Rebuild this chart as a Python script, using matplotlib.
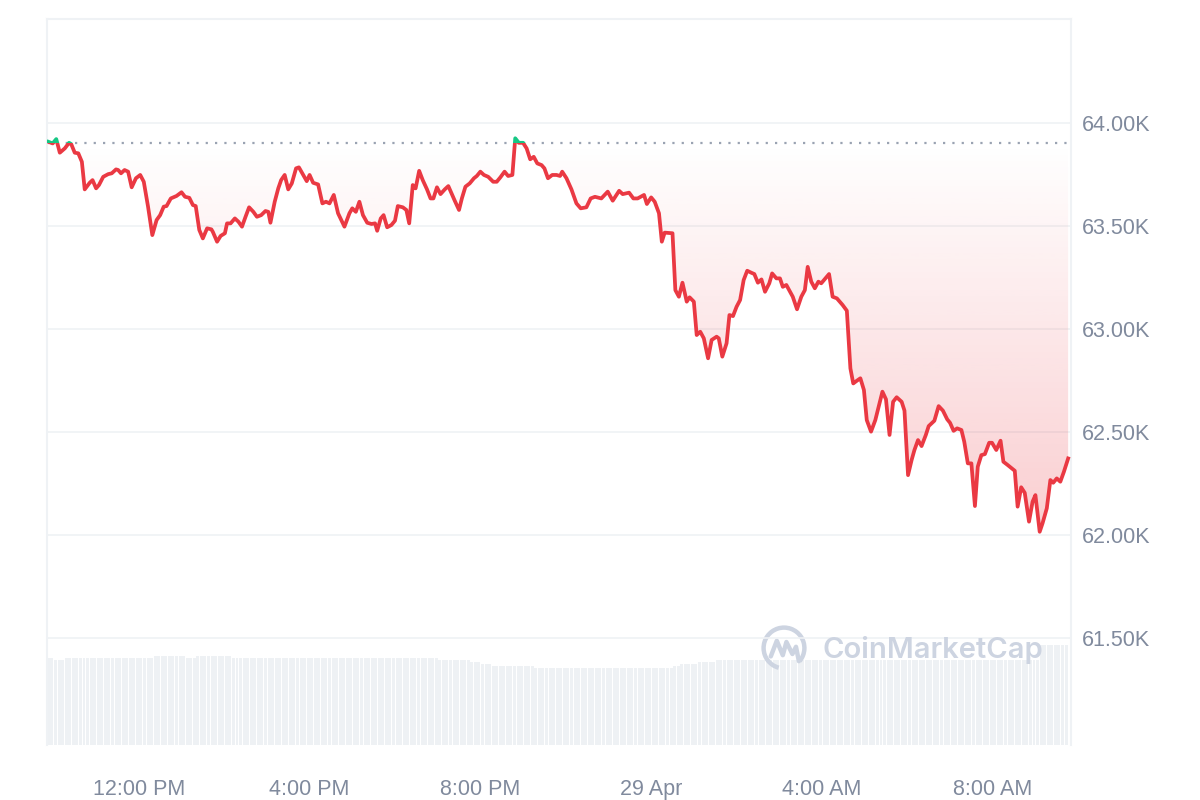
import numpy as np
import matplotlib
matplotlib.use("Agg")
import matplotlib.pyplot as plt
from matplotlib.patches import Rectangle, Arc
from matplotlib.ticker import FuncFormatter
from matplotlib.colors import to_rgb

# minutes after 12:00 PM, 28 Apr
minutes = [-127, -121, -116, -111, -104, -98, -95, -90, -85, -80, -76, -69, -65, -60, -56, -50, -43, -38, -32, -29,
           -25, -20, -15, -10, -4, 2, 7, 13, 19, 25, 30, 35, 39, 45, 53, 60, 65, 71, 76, 80,
           85, 90, 96, 102, 104, 110, 115, 121, 124, 129, 135, 140, 145, 150, 155, 161, 166, 172, 178, 182,
           185, 191, 196, 200, 205, 210, 215, 221, 225, 231, 236, 240, 245, 252, 258, 263, 268, 274,
           280, 289, 296, 300, 305, 310, 315, 321, 327, 332, 335, 340, 344, 349, 355, 360, 364, 371, 376, 380,
           385, 389, 394, 399, 405, 410, 414, 419, 424, 430, 435, 439, 444, 450, 454, 459, 465, 471, 475, 480,
           485, 491, 498, 503, 508, 514, 519, 525, 529, 534, 540, 545, 550, 555, 560, 566, 570, 575, 581, 587,
           592, 595, 601, 608, 615, 621, 629, 635, 641, 650, 659, 666, 675, 680, 689,
           695, 701, 710, 714, 720, 725, 731, 735, 739, 750, 754, 759, 764, 770, 774, 780, 784, 789, 794, 800,
           805, 812, 815, 820, 826, 830, 835, 840, 845, 850, 855, 861, 865, 870, 875, 880, 886, 890, 896, 901,
           905, 910, 919, 925, 931, 936, 940, 945, 950, 955, 959, 970, 975, 981, 989, 995,
           1000, 1004, 1009, 1014, 1019, 1023, 1029, 1035, 1045, 1050, 1055, 1060, 1065, 1072, 1076, 1081, 1086,
           1090, 1095, 1100, 1106, 1110, 1118, 1124, 1130, 1136, 1140, 1145, 1150, 1156, 1160, 1165, 1170, 1175,
           1179, 1184, 1189, 1195, 1199, 1205, 1211, 1215, 1221, 1231, 1235, 1240, 1245, 1251, 1256, 1260,
           1266, 1270, 1276, 1281, 1285, 1290, 1295, 1300, 1306]

price = [63909, 63901, 63922, 63856, 63877, 63904, 63898, 63856, 63853, 63812, 63678, 63710, 63723, 63683, 63699,
         63739, 63752, 63756, 63775, 63772, 63756, 63772, 63764, 63688, 63732, 63748, 63715, 63594, 63456, 63529,
         63553, 63594, 63597, 63634, 63646, 63664, 63642, 63637, 63602, 63597, 63481, 63440, 63489, 63484, 63472,
         63424, 63452, 63465, 63513, 63513, 63537, 63521, 63497, 63545, 63591, 63569, 63545, 63553, 63573, 63569,
         63516, 63618, 63683, 63723, 63748, 63678, 63707, 63780, 63785, 63748, 63718, 63748, 63710, 63702, 63610,
         63618, 63610, 63651,
         63562, 63497, 63562, 63586, 63569, 63618, 63553, 63516, 63510, 63513, 63477, 63537, 63553, 63494, 63505,
         63526, 63597, 63591, 63578, 63513, 63699, 63683, 63768, 63723, 63678, 63634, 63634, 63688, 63655, 63678,
         63694, 63662, 63623, 63578, 63634, 63691, 63707, 63732, 63743, 63764, 63748, 63739, 63715, 63715, 63736,
         63764, 63743, 63748, 63926, 63904, 63904, 63877, 63824, 63836, 63804, 63796, 63780, 63732, 63748, 63748,
         63743, 63764, 63732, 63678, 63610, 63586, 63591, 63634, 63642, 63634, 63667, 63623, 63671, 63655, 63662,
         63634, 63634, 63651, 63607, 63639, 63618, 63562, 63424, 63468, 63465, 63189, 63157, 63225, 63133, 63154,
         63133, 62971, 62987, 62955, 62858, 62947, 62963, 62955, 62866, 62931, 63068, 63063, 63108, 63141, 63238,
         63283, 63273, 63267, 63225, 63241, 63181, 63222, 63270, 63246, 63246, 63205, 63214, 63157, 63096, 63157,
         63189, 63302, 63230, 63198, 63230, 63222, 63267, 63157, 63149, 63117, 63089,
         62809, 62736, 62749, 62761, 62704, 62558, 62502, 62558, 62696, 62659, 62486, 62647, 62669, 62647, 62604,
         62291, 62364, 62413, 62461, 62432, 62486, 62529, 62555, 62626, 62604, 62562, 62545, 62506, 62518, 62510,
         62453, 62348, 62348, 62141, 62332, 62388, 62393, 62448, 62448, 62413, 62458, 62356, 62340, 62312, 62138,
         62232, 62205, 62065, 62162, 62194, 62016, 62057, 62130, 62267, 62254, 62275, 62259, 62307, 62372]

open_price = 63903

# volume (billions), level holds from each start minute
vol_start = [-129, -118, -103, 22, 66, 83, 131, 423, 468, 482, 496, 556, 753, 763, 788, 813, 1266]
vol_level = [24.9, 24.3, 24.9, 25.4, 24.8, 25.4, 24.9, 24.2, 23.7, 23.1, 22.6, 22.0, 22.6, 23.1, 23.7, 24.3, 28.6]

tick_minutes = [0, 240, 480, 720, 960, 1200]
tick_labels = ["12:00 PM", "4:00 PM", "8:00 PM", "29 Apr", "4:00 AM", "8:00 AM"]
price_ticks = [61500, 62000, 62500, 63000, 63500, 64000]

RED = "#ea3943"
GREEN = "#16c784"
LABEL = "#808a9d"
GRID = "#eff2f5"

plt.rcParams["font.family"] = ["Liberation Sans", "DejaVu Sans"]

x = np.array(minutes, dtype=float)
p = np.array(price, dtype=float)
xmin, xmax = -129, 1310
ymin, ymax = 60981, 64505

fig = plt.figure(figsize=(12, 8), dpi=100)
ax = fig.add_axes([47 / 1200, 1 - 745 / 800, (1071 - 47) / 1200, (745 - 19) / 800])
ax2 = ax.twinx()
ax.set_zorder(ax2.get_zorder() + 1)
ax.patch.set_visible(False)

# volume bars
bar_x = np.arange(-127, 1306, 5)
idx = np.searchsorted(vol_start, bar_x, side="right") - 1
bar_v = np.array(vol_level)[idx]
ax2.bar(bar_x, bar_v, width=4.2, color="#eef1f4", linewidth=0)
ax2.set_ylim(0, 726 / 3.5)
ax2.set_yticks([])
for s in ax2.spines.values():
    s.set_visible(False)

# gradient fill below the open price
poly = ax.fill_between(x, np.minimum(p, open_price), open_price, color="none", linewidth=0)
grad = np.zeros((256, 1, 4))
grad[..., :3] = to_rgb(RED)
grad[:, 0, 3] = np.linspace(0.25, 0.0, 256)
im = ax.imshow(grad, origin="lower", aspect="auto", extent=[xmin, xmax, 62000, open_price], zorder=1)
im.set_clip_path(poly.get_paths()[0], transform=ax.transData)

# price line, red below open, green above
red_line, = ax.plot(x, p, color=RED, lw=2.7, zorder=3, solid_joinstyle="round")
green_line, = ax.plot(x, p, color=GREEN, lw=2.7, zorder=3, solid_joinstyle="round")
red_line.set_clip_path(Rectangle((xmin, ymin), xmax - xmin, open_price - ymin, transform=ax.transData))
green_line.set_clip_path(Rectangle((xmin, open_price), xmax - xmin, ymax - open_price, transform=ax.transData))

ax.axhline(open_price, color="#9aa3b2", lw=1.6, linestyle=(0, (1, 3.2)), zorder=2)

ax.set_xlim(xmin, xmax)
ax.set_ylim(ymin, ymax)
ax.set_xticks(tick_minutes)
ax.set_xticklabels(tick_labels)
ax.set_yticks(price_ticks)
ax.yaxis.set_major_formatter(FuncFormatter(lambda v, _: f"{v / 1000:.2f}K"))
ax.yaxis.tick_right()
ax.tick_params(axis="y", length=0, pad=8, labelsize=15.5, labelcolor=LABEL)
ax.tick_params(axis="x", length=0, pad=24.5, labelsize=15.5, labelcolor=LABEL)
ax.grid(axis="y", color=GRID, lw=1.2)
ax.set_axisbelow(True)
for name in ["left", "top", "right"]:
    ax.spines[name].set_color(GRID)
    ax.spines[name].set_linewidth(1.5)
ax.spines["bottom"].set_visible(False)

# watermark
wm = "#cdd4e1"
fig.text(822 / 1200, 1 - 650 / 800, "CoinMarketCap", fontsize=21, fontweight="semibold",
         family=["Inter", "DejaVu Sans"], color=wm, va="center", ha="left")
lax = fig.add_axes([760 / 1200, 1 - 672 / 800, 48 / 1200, 48 / 800])
lax.set_xlim(-1, 1)
lax.set_ylim(-1, 1)
lax.axis("off")
lax.add_patch(Arc((0, 0), 1.7, 1.7, theta1=-40, theta2=255, color=wm, lw=3.2))
lax.plot([-0.55, -0.3, -0.05, 0.1, 0.35, 0.5, 0.62],
         [-0.35, 0.3, -0.3, 0.25, -0.25, 0.05, -0.55], color=wm, lw=3.2,
         solid_capstyle="round", solid_joinstyle="round")

fig.savefig("out.png", dpi=100, facecolor="white")
